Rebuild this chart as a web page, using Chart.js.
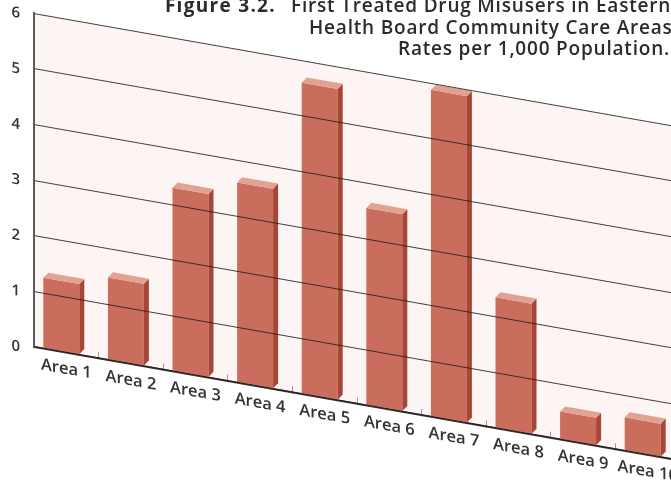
<!DOCTYPE html>
<html><head><meta charset="utf-8">
<script src="https://cdn.jsdelivr.net/npm/chart.js@4.4.1/dist/chart.umd.min.js"></script>
<style>
html,body{margin:0;padding:0;width:671px;height:483px;overflow:hidden;background:#fff;}
#wrap{position:relative;width:671px;height:483px;overflow:hidden;}
canvas{position:absolute;left:0;top:0;}
.t{position:absolute;font-family:"Open Sans",sans-serif;font-size:19px;font-weight:600;letter-spacing:0.8px;color:#2b2b2b;white-space:nowrap;line-height:22px;}
</style></head><body>
<div id="wrap">
<canvas id="c" width="700" height="483" style="width:700px;height:483px"></canvas>
<div class="t" style="right:395px;top:-6.5px;font-weight:700;letter-spacing:1.3px">Figure 3.2.</div>
<div class="t" style="left:291px;top:-6.5px">First Treated Drug Misusers in Eastern</div>
<div class="t" style="left:309px;top:15.6px">Health Board Community Care Areas:</div>
<div class="t" style="left:398px;top:37px">Rates per 1,000 Population.</div>
</div>
<script>
const categories = ['Area 1','Area 2','Area 3','Area 4','Area 5','Area 6','Area 7','Area 8','Area 9','Area 10'];
const rates = [1.27, 1.48, 3.3, 3.6, 5.6, 3.55, 5.88, 2.35, 0.5, 0.6];
const yTicks = [0, 1, 2, 3, 4, 5, 6];

const K = 0.176;          // slope of the perspective floor
const FRONT = '#cb6d5c', SIDE = '#a74636', TOPC = '#e2a293';

const shear = {
  id: 'shear',
  beforeDraw(chart) {
    const {ctx, chartArea: a} = chart;
    ctx.save();
    ctx.transform(1, K, 0, 1, 0, -K * a.left);
    ctx.fillStyle = '#fcf5f4';
    ctx.fillRect(a.left, a.top, a.right - a.left, a.bottom - a.top);
  },
  beforeDatasetsDraw(chart) { chart.ctx.save(); chart.ctx.translate(-5, 0); },
  afterDatasetsDraw(chart) {
    const ctx = chart.ctx;
    const meta = chart.getDatasetMeta(0);
    const dx = 5, dy = -6;
    meta.data.forEach(b => {
      const {x, y, base, width} = b.getProps(['x', 'y', 'base', 'width'], true);
      const l = x - width / 2, r = x + width / 2;
      ctx.fillStyle = SIDE;
      ctx.beginPath(); ctx.moveTo(r, y); ctx.lineTo(r + dx, y + dy); ctx.lineTo(r + dx, base + dy); ctx.lineTo(r, base); ctx.closePath(); ctx.fill();
      ctx.fillStyle = TOPC;
      ctx.beginPath(); ctx.moveTo(l, y); ctx.lineTo(l + dx, y + dy); ctx.lineTo(r + dx, y + dy); ctx.lineTo(r, y); ctx.closePath(); ctx.fill();
    });
    ctx.restore();
  },
  afterDraw(chart) { chart.ctx.restore(); }
};

new Chart(document.getElementById('c'), {
  type: 'bar',
  data: { labels: categories, datasets: [{ data: rates, backgroundColor: FRONT, borderWidth: 0, barPercentage: 0.557, categoryPercentage: 1 }] },
  options: {
    responsive: false, animation: false,
    layout: { padding: { top: 13.3, left: 0, right: 20, bottom: 0 } },
    plugins: { legend: { display: false }, tooltip: { enabled: false }, title: { display: false } },
    scales: {
      x: {
        afterFit: s => { s.height = 136.3; s.paddingLeft = 0; s.paddingRight = 0; },
        grid: { drawOnChartArea: false, drawTicks: true, tickLength: -6, color: '#9a9a9a' },
        border: { display: true, color: '#333', width: 2 },
        ticks: { padding: 13, maxRotation: 0, minRotation: 0, color: '#333', font: { family: 'Open Sans', size: 16.5, weight: '600' } }
      },
      y: {
        min: 0, max: 6,
        afterFit: s => { s.width = 34; s.paddingTop = 0; s.paddingBottom = 0; },
        afterBuildTicks: s => { s.ticks = yTicks.map(v => ({ value: v })); },
        grid: { z: 1, color: 'rgba(35,30,30,0.85)', lineWidth: 1, drawTicks: false },
        border: { display: true, color: '#5a5a5a', width: 2, z: 1 },
        ticks: { padding: 14, labelOffset: 3, color: '#333', font: { family: 'Open Sans', size: 15, weight: '600' } }
      }
    }
  },
  plugins: [shear]
});
</script>
</body></html>
